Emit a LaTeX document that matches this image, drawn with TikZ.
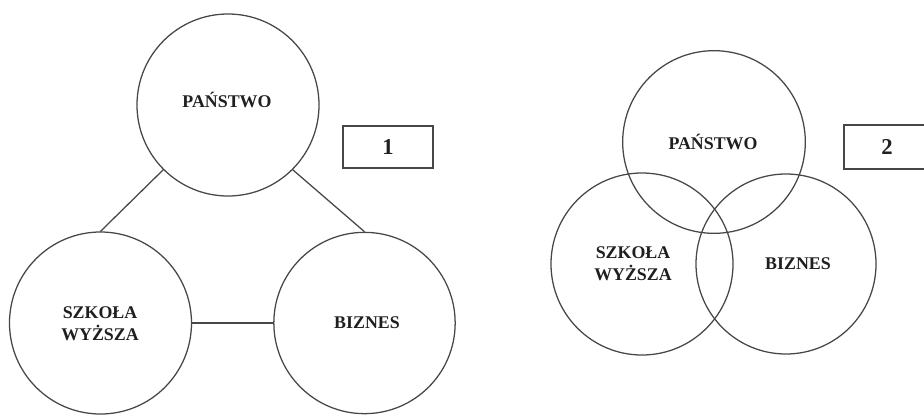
\documentclass[tikz,border=0pt]{standalone}
\usepackage{fontspec}
\setmainfont{Liberation Serif}
\begin{document}
\begin{tikzpicture}[x=0.75pt,y=-0.75pt,
  circ/.style={draw=black!72,line width=0.95pt,circle,inner sep=0pt},
  lbl/.style={font=\fontsize{13.4}{16.5}\selectfont\bfseries,text=black!88,align=center,inner sep=0pt},
  numbox/.style={draw=black!72,line width=0.95pt},
  num/.style={font=\fontsize{17}{20}\selectfont\bfseries,text=black!88,inner sep=0pt},
  conn/.style={draw=black!72,line width=0.95pt}]
\useasboundingbox (0,0) rectangle (924,415);
\clip (0,0) rectangle (924,415);
% left diagram
\node[circ,minimum size=136.5pt] (P) at (228,105) {};
\node[circ,minimum size=136.5pt] (S) at (100.5,323) {};
\node[circ,minimum size=136pt] (B) at (364.5,323) {};
\node[lbl] (Pt) at (227,100) {PAŃSTWO};
\node[lbl] (St) at (100,324) {SZKOŁA\\WYŻSZA};
\node[lbl] (Bt) at (367,323) {BIZNES};
\draw[conn] (P.-135) -- (S.north);
\draw[conn] (P.-45) -- (B.north);
\draw[conn] (S.east) -- (B.west);
\draw[numbox] (343,126) rectangle (433,168);
\node[num] (n1) at (388,147) {1};
% right diagram
\node[circ,minimum size=137pt] (P2) at (714,142) {};
\node[circ,minimum size=136.5pt] (S2) at (642,264) {};
\node[circ,minimum size=135pt] (B2) at (786,264) {};
\node[lbl] (P2t) at (713,142) {PAŃSTWO};
\node[lbl] (S2t) at (633,264) {SZKOŁA\\WYŻSZA};
\node[lbl] (B2t) at (798,264) {BIZNES};
\draw[numbox] (844,125) rectangle (940,169);
\node[num] (n2) at (887,147) {2};
\end{tikzpicture}
\end{document}
